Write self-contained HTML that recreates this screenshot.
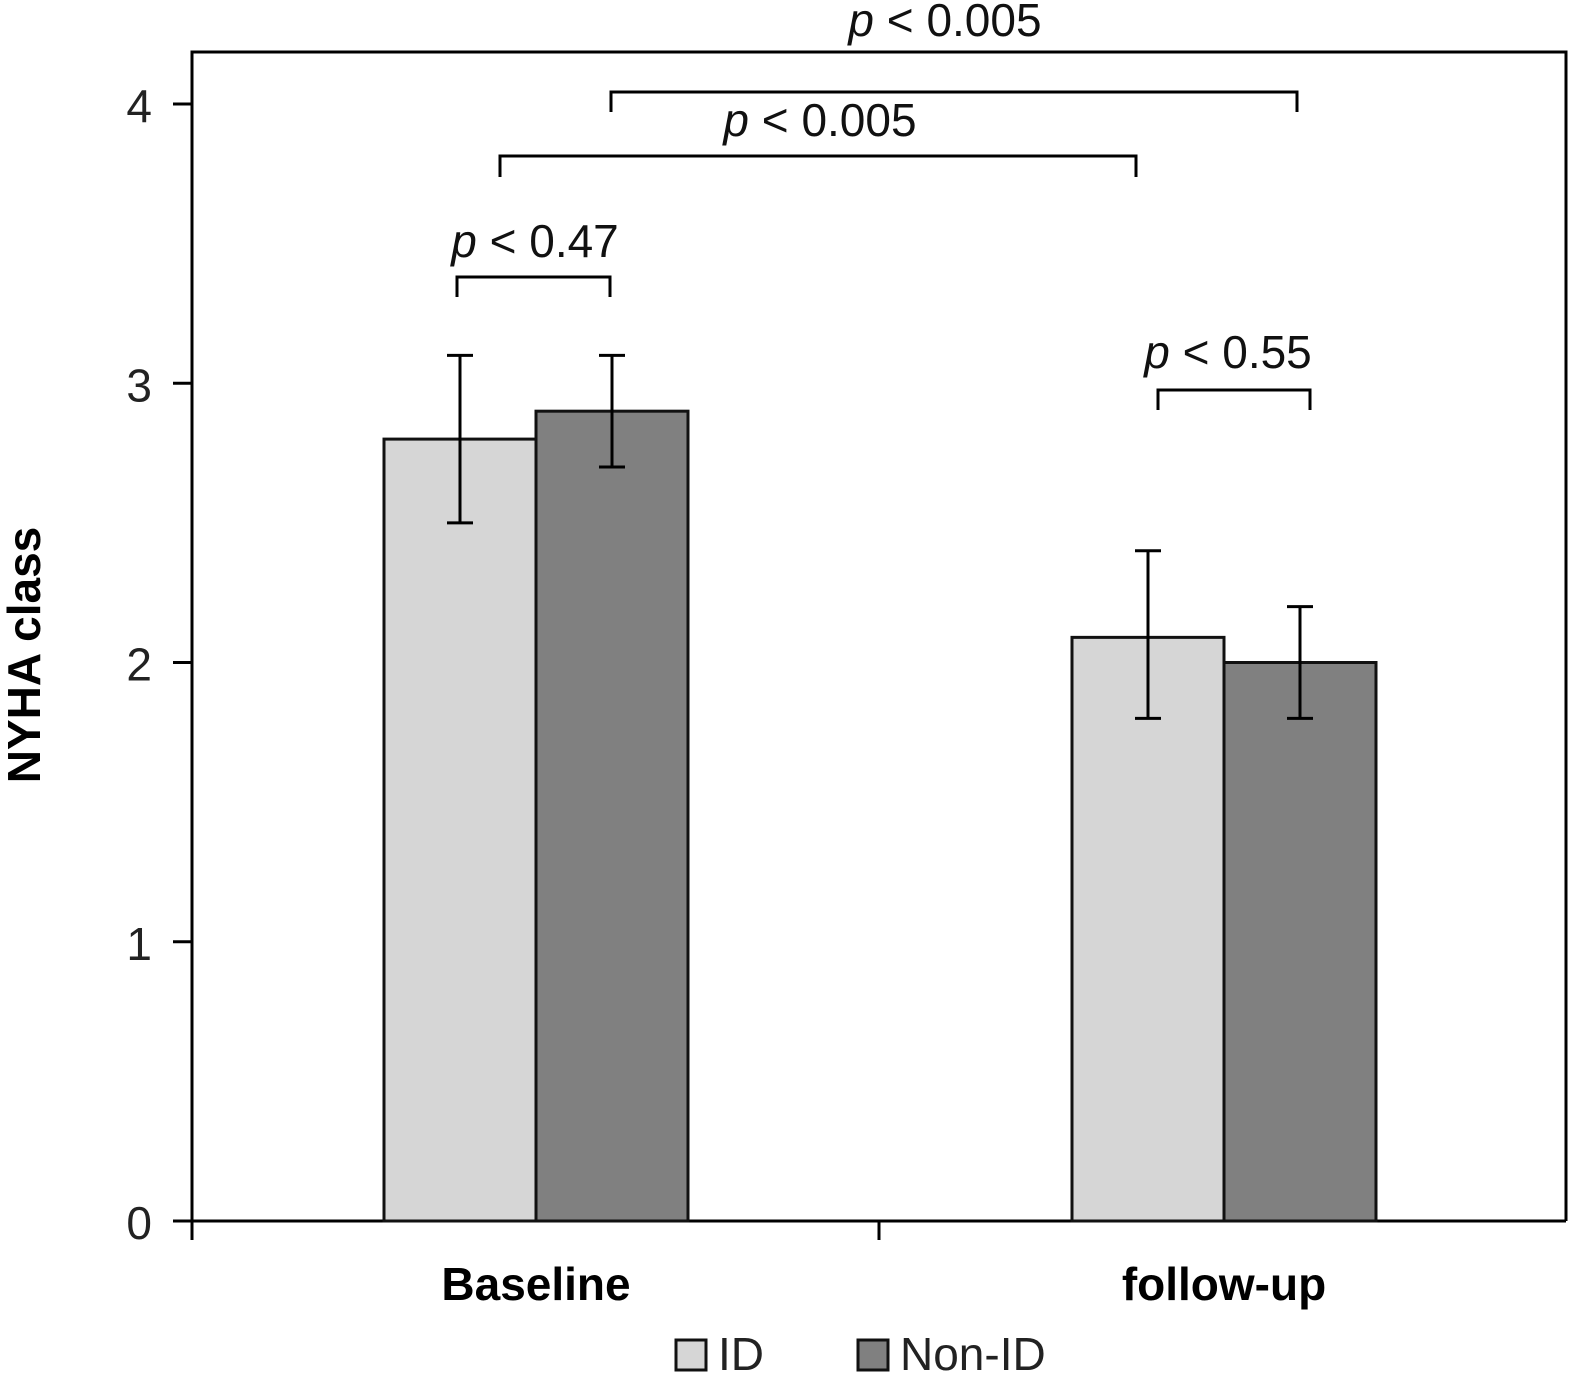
<!DOCTYPE html>
<html><head><meta charset="utf-8"><style>
html,body{margin:0;padding:0;background:#fff;}
svg{display:block;font-family:"Liberation Sans","DejaVu Sans",sans-serif;}
</style></head><body>
<svg id="chart" width="1572" height="1377" viewBox="0 0 1572 1377"></svg>
<script>
const categories = ["Baseline", "follow-up"];
const seriesNames = ["ID", "Non-ID"];
const idValues = [2.8, 2.09];
const nonIdValues = [2.9, 2.0];
const idLow = [2.5, 1.8];
const idHigh = [3.1, 2.4];
const nonIdLow = [2.7, 1.8];
const nonIdHigh = [3.1, 2.2];
const yTicks = [0, 1, 2, 3, 4];
const pLabels = ["p < 0.47", "p < 0.55", "p < 0.005", "p < 0.005"];

const NS = "http://www.w3.org/2000/svg";
const svg = document.getElementById("chart");
const y0 = 1221, unit = 279.25;
function yScale(v){ return y0 - v*unit; }
const groupLeft = [384, 1072];
const barW = 152;
function barX(g, s){ return groupLeft[g] + s*barW; }
function barCenter(g, s){ return barX(g,s) + barW/2; }
function mk(tag, attrs){ const e=document.createElementNS(NS,tag); for(const k in attrs) e.setAttribute(k,attrs[k]); svg.appendChild(e); return e; }

// frame
let f = mk("path",{d:"M192 1240 V52 H1566 V1221",fill:"none",stroke:"#000","stroke-width":3});


let xa = mk("path",{d:"M173 1221 H1566 M192 1221 V1240 M879 1221 V1240",fill:"none",stroke:"#000","stroke-width":3});



yTicks.forEach(t=>{
  const y=yScale(t);
  const l=mk("line",{x1:173,x2:192,y1:y,y2:y,stroke:"#000","stroke-width":3});
  
  
  const tx=mk("text",{x:152,y:y+18,"text-anchor":"end","font-size":46,fill:"#222"});
  tx.textContent=t;
  
  
});

const colors=["#d6d6d6","#808080"];
const vals=[idValues,nonIdValues], lows=[idLow,nonIdLow], highs=[idHigh,nonIdHigh];
categories.forEach((c,g)=>{
  [0,1].forEach(s=>{
    const v=vals[s][g];
    const r=mk("rect",{x:barX(g,s),y:yScale(v),width:barW,height:y0-yScale(v),fill:colors[s],stroke:"#111","stroke-width":3});
    
    
  });
  [0,1].forEach(s=>{
    const cx=barCenter(g,s), yl=yScale(lows[s][g]), yh=yScale(highs[s][g]);
    const e=mk("path",{d:`M${cx} ${yl} V${yh} M${cx-13} ${yl} H${cx+13} M${cx-13} ${yh} H${cx+13}`,stroke:"#000","stroke-width":3,fill:"none"});
    
    
  });
  const lab=mk("text",{x:barX(g,1),y:1300,"text-anchor":"middle","font-size":46,"font-weight":"bold",fill:"#000"});
  lab.textContent=c;
  
  
});

const brackets=[[457,610,277,297,535,257],[1158,1310,390,410,1228,368],[500,1136,156,177,820,136],[611,1297,92,112,945,36]];
brackets.forEach((b,i)=>{
  const p=mk("path",{d:`M${b[0]} ${b[3]} V${b[2]} H${b[1]} V${b[3]}`,fill:"none",stroke:"#000","stroke-width":3});
  
  
  const t=mk("text",{x:b[4],y:b[5],"text-anchor":"middle","font-size":46,fill:"#111"});
  const parts=pLabels[i].split(" ");
  const ts=document.createElementNS(NS,"tspan"); ts.setAttribute("font-style","italic"); ts.textContent=parts[0]; t.appendChild(ts);
  t.appendChild(document.createTextNode(" "+parts.slice(1).join(" ")));
  
  
});

const yt=mk("text",{x:0,y:0,transform:"translate(40 655) rotate(-90)","text-anchor":"middle","font-size":46,"font-weight":"bold",fill:"#000"});
yt.textContent="NYHA class";



const legX=[676,858];
seriesNames.forEach((n,s)=>{
  const r=mk("rect",{x:legX[s],y:1340,width:30,height:30,fill:colors[s],stroke:"#111","stroke-width":3});
  
  
  const t=mk("text",{x:legX[s]+42,y:1370,"font-size":46,fill:"#222"});
  t.textContent=n;
  
  
});
</script>
</body></html>
